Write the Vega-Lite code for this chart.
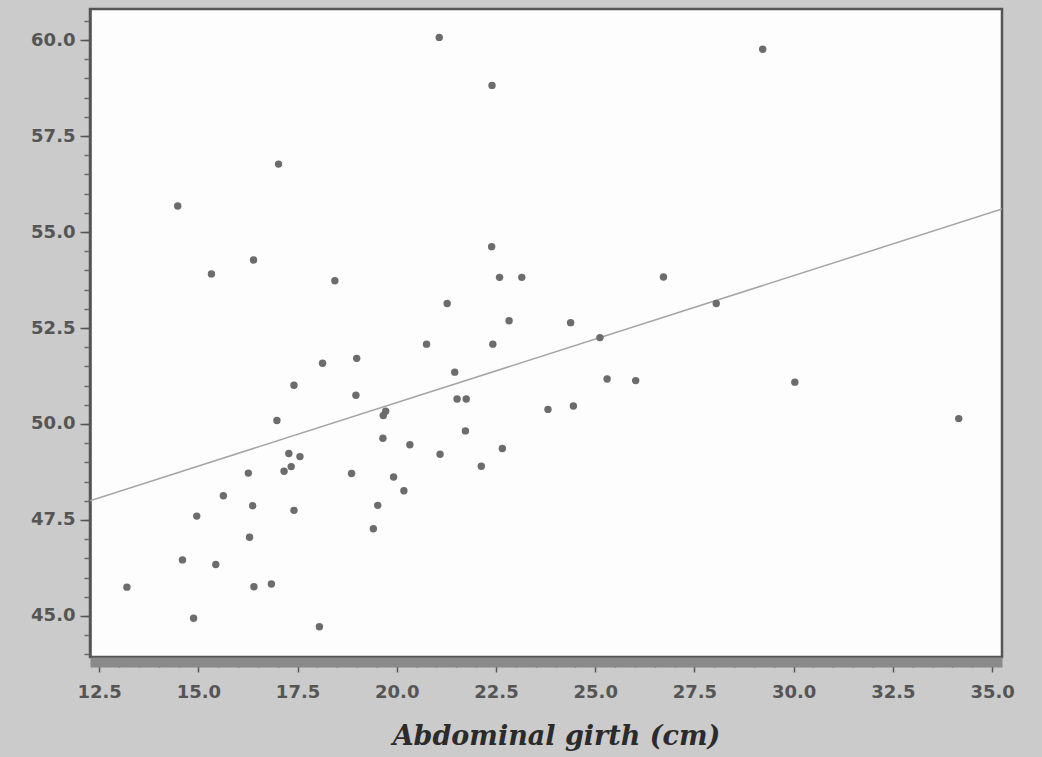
{
  "$schema": "https://vega.github.io/schema/vega-lite/v6.json",
  "width": 912,
  "height": 648,
  "autosize": {"type": "none"},
  "padding": {"left": 90, "top": 9, "right": 40, "bottom": 100},
  "background": "#cbcbcb",
  "config": {
    "view": {"fill": "#fdfdfd", "stroke": "#555555", "strokeWidth": 2.5}
  },
  "resolve": {"axis": {"x": "independent", "y": "independent"}},
  "datasets": {
    "pts": [
      {"girth": 13.20, "value": 45.75}, {"girth": 18.13, "value": 51.58}, {"girth": 18.99, "value": 51.71},
      {"girth": 17.41, "value": 51.01}, {"girth": 18.97, "value": 50.75}, {"girth": 16.98, "value": 50.09},
      {"girth": 19.72, "value": 50.33}, {"girth": 19.66, "value": 50.22}, {"girth": 19.65, "value": 49.63},
      {"girth": 17.28, "value": 49.23}, {"girth": 17.56, "value": 49.15}, {"girth": 17.34, "value": 48.89},
      {"girth": 17.16, "value": 48.77}, {"girth": 16.26, "value": 48.72}, {"girth": 18.86, "value": 48.71},
      {"girth": 19.92, "value": 48.62}, {"girth": 15.63, "value": 48.13}, {"girth": 16.37, "value": 47.87},
      {"girth": 19.52, "value": 47.88}, {"girth": 14.96, "value": 47.60}, {"girth": 17.41, "value": 47.75},
      {"girth": 19.41, "value": 47.27}, {"girth": 16.29, "value": 47.05}, {"girth": 14.60, "value": 46.46},
      {"girth": 15.44, "value": 46.34}, {"girth": 16.40, "value": 45.76}, {"girth": 16.84, "value": 45.83},
      {"girth": 14.88, "value": 44.94}, {"girth": 18.05, "value": 44.72}, {"girth": 17.02, "value": 56.77},
      {"girth": 14.48, "value": 55.68}, {"girth": 16.39, "value": 54.27}, {"girth": 15.33, "value": 53.91},
      {"girth": 18.44, "value": 53.73}, {"girth": 21.07, "value": 60.07}, {"girth": 29.22, "value": 59.76},
      {"girth": 22.40, "value": 58.82}, {"girth": 22.39, "value": 54.62}, {"girth": 22.59, "value": 53.82},
      {"girth": 23.15, "value": 53.82}, {"girth": 26.72, "value": 53.83}, {"girth": 21.27, "value": 53.14},
      {"girth": 28.05, "value": 53.14}, {"girth": 22.83, "value": 52.69}, {"girth": 24.38, "value": 52.64},
      {"girth": 20.75, "value": 52.08}, {"girth": 22.42, "value": 52.08}, {"girth": 25.12, "value": 52.25},
      {"girth": 21.46, "value": 51.35}, {"girth": 25.30, "value": 51.17}, {"girth": 26.02, "value": 51.13},
      {"girth": 21.52, "value": 50.65}, {"girth": 21.75, "value": 50.65}, {"girth": 23.81, "value": 50.38},
      {"girth": 24.45, "value": 50.47}, {"girth": 21.73, "value": 49.82}, {"girth": 20.33, "value": 49.46},
      {"girth": 21.09, "value": 49.21}, {"girth": 22.66, "value": 49.36}, {"girth": 22.13, "value": 48.90},
      {"girth": 20.18, "value": 48.26}, {"girth": 30.03, "value": 51.09}, {"girth": 34.16, "value": 50.14}
    ],
    "fit": [
      {"girth": 12.27, "value": 48.0},
      {"girth": 35.25, "value": 55.6}
    ]
  },
  "layer": [
    {
      "data": {"name": "fit"},
      "mark": {"type": "line", "color": "#a5a5a5", "strokeWidth": 1.5, "clip": true},
      "encoding": {
        "x": {
          "field": "girth", "type": "quantitative",
          "scale": {"domain": [12.27, 35.25], "nice": false, "zero": false},
          "axis": {
            "orient": "bottom",
            "values": [12.5,13,13.5,14,14.5,15,15.5,16,16.5,17,17.5,18,18.5,19,19.5,20,20.5,21,21.5,22,22.5,23,23.5,24,24.5,25,25.5,26,26.5,27,27.5,28,28.5,29,29.5,30,30.5,31,31.5,32,32.5,33,33.5,34,34.5,35],
            "labels": false, "domain": false, "grid": false, "title": null,
            "ticks": true, "tickSize": 5, "tickColor": "#555555", "tickWidth": 1.5, "offset": 5
          }
        },
        "y": {
          "field": "value", "type": "quantitative",
          "scale": {"domain": [43.93, 60.81], "nice": false, "zero": false},
          "axis": {
            "orient": "left",
            "values": [44,44.5,45,45.5,46,46.5,47,47.5,48,48.5,49,49.5,50,50.5,51,51.5,52,52.5,53,53.5,54,54.5,55,55.5,56,56.5,57,57.5,58,58.5,59,59.5,60,60.5],
            "labels": false, "domain": false, "grid": false, "title": null,
            "ticks": true, "tickSize": 6, "tickColor": "#6a6a6a", "tickWidth": 1.5
          }
        }
      }
    },
    {
      "data": {"name": "pts"},
      "mark": {"type": "circle", "color": "#6c6c6c", "opacity": 1, "size": 55},
      "encoding": {
        "x": {
          "field": "girth", "type": "quantitative",
          "scale": {"domain": [12.27, 35.25], "nice": false, "zero": false},
          "axis": {
            "orient": "bottom",
            "values": [12.5, 15, 17.5, 20, 22.5, 25, 27.5, 30, 32.5, 35],
            "format": ".1f",
            "grid": false,
            "offset": 5,
            "domain": true, "domainColor": "#8a8a8a", "domainWidth": 10,
            "ticks": true, "tickSize": 10, "tickColor": "#555555", "tickWidth": 1.5,
            "labelFont": "DejaVu Sans", "labelFontWeight": "bold", "labelFontSize": 18,
            "labelColor": "#555555", "labelPadding": 11,
            "title": "Abdominal girth (cm)",
            "titleFont": "DejaVu Serif", "titleFontStyle": "italic", "titleFontWeight": "bold",
            "titleFontSize": 27, "titleColor": "#2b2b2b",
            "titleX": 466, "titleY": 82, "titleBaseline": "alphabetic", "titleAlign": "center"
          }
        },
        "y": {
          "field": "value", "type": "quantitative",
          "scale": {"domain": [43.93, 60.81], "nice": false, "zero": false},
          "axis": {
            "orient": "left",
            "values": [45, 47.5, 50, 52.5, 55, 57.5, 60],
            "format": ".1f",
            "grid": false,
            "domain": true, "domainColor": "#555555", "domainWidth": 2.5,
            "ticks": true, "tickSize": 10, "tickColor": "#555555", "tickWidth": 1.5,
            "labelFont": "DejaVu Sans", "labelFontWeight": "bold", "labelFontSize": 18,
            "labelColor": "#555555", "labelPadding": 5,
            "title": null
          }
        }
      }
    }
  ]
}
